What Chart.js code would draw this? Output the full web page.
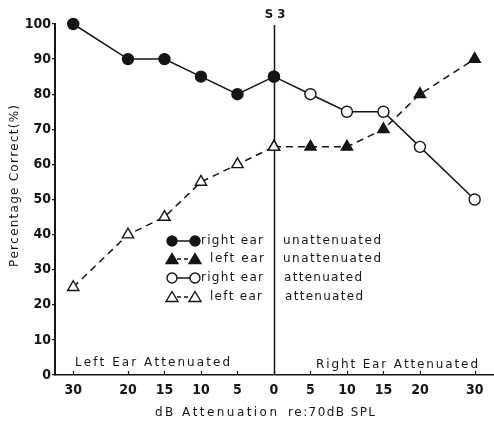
<!DOCTYPE html>
<html>
<head>
<meta charset="utf-8">
<script src="https://cdn.jsdelivr.net/npm/chart.js@4"></script>
<style>
  html, body { margin: 0; padding: 0; background: #fff; }
  #wrap { width: 494px; height: 424px; }
</style>
</head>
<body>
<div id="wrap"><canvas id="c" width="494" height="424"></canvas></div>
<script>
// ---- Data ----
// Left half: left ear attenuated by these dB; right half: right ear attenuated
const leftHalfDb  = [-30, -20, -15, -10, -5, 0];
const rightHalfDb = [0, 5, 10, 15, 20, 30];
const rightEarUnattenuated = [100, 90, 90, 85, 80, 85];
const leftEarAttenuated    = [25, 40, 45, 55, 60, 65];
const rightEarAttenuated   = [85, 80, 75, 75, 65, 50];
const leftEarUnattenuated  = [65, 65, 65, 70, 80, 90];
const xTickDb = [-30, -20, -15, -10, -5, 0, 5, 10, 15, 20, 30];
const yTicks  = [0, 10, 20, 30, 40, 50, 60, 70, 80, 90, 100];

// axis is compressed beyond 20 dB (20->30 spans 1.5 steps of 5 dB)
function axisPos(db) {
  const a = Math.abs(db);
  const u = a <= 20 ? a / 5 : 4 + (a - 20) * 0.15;
  return Math.sign(db) * u;
}
const pts = (dbs, vals) => dbs.map((d, i) => ({ x: axisPos(d), y: vals[i] }));

const INK = '#151515';
const NARROW = '"Liberation Sans Narrow", "DejaVu Sans Condensed", "Liberation Sans", sans-serif';
const PLOT = '"DejaVu Sans", "Liberation Sans", sans-serif';

// draw text spread over a given width (plotter-style lettering)
function spread(ctx, text, x, y, width) {
  const chars = Array.from(text);
  const ws = chars.map(c => ctx.measureText(c).width);
  const total = ws.reduce((a, b) => a + b, 0);
  const gap = chars.length > 1 ? (width - total) / (chars.length - 1) : 0;
  let cx = x;
  chars.forEach((c, i) => { ctx.fillText(c, cx, y); cx += ws[i] + gap; });
}

const decor = {
  id: 'decor',
  beforeDatasetsDraw(chart) {
    const ctx = chart.ctx, xs = chart.scales.x, ca = chart.chartArea;
    const x0 = Math.round(xs.getPixelForValue(0)) + 0.5;
    ctx.save();
    ctx.strokeStyle = INK; ctx.lineWidth = 1.5;
    ctx.beginPath(); ctx.moveTo(x0, ca.top + 1); ctx.lineTo(x0, ca.bottom); ctx.stroke();
    // inner x ticks
    ctx.lineWidth = 1.2;
    xTickDb.forEach(d => {
      const px = Math.round(xs.getPixelForValue(axisPos(d))) + 0.5;
      ctx.beginPath(); ctx.moveTo(px, ca.bottom); ctx.lineTo(px, ca.bottom - 4); ctx.stroke();
    });
    ctx.restore();
  },
  afterDraw(chart) {
    const ctx = chart.ctx, xs = chart.scales.x;
    const x0 = xs.getPixelForValue(0);
    ctx.save();
    ctx.fillStyle = INK; ctx.strokeStyle = INK;
    ctx.textBaseline = 'middle';
    // S 3 label
    ctx.font = 'bold 13px ' + NARROW;
    ctx.textAlign = 'center';
    ctx.fillText('S 3', x0 + 1, 15);

    ctx.font = '12px ' + PLOT;
    ctx.textAlign = 'left';
    spread(ctx, 'Left Ear Attenuated', 75, 363, 155);
    spread(ctx, 'Right Ear Attenuated', 316, 365, 162);

    // axis titles
    spread(ctx, 'dB Attenuation', 155, 413, 122);
    spread(ctx, 're:70dB SPL', 288, 413, 87);
    ctx.save();
    ctx.translate(15, 186);
    ctx.rotate(-Math.PI / 2);
    spread(ctx, 'Percentage Correct(%)', -81, 0, 162);
    ctx.restore();

    // legend
    const rows = [
      { y: 241, fill: true,  tri: false, dash: false, a: 'right ear', ax: 201, aw: 62, b: 'unattenuated', bx: 283, bw: 98 },
      { y: 259, fill: true,  tri: true,  dash: true,  a: 'left ear',  ax: 210, aw: 54, b: 'unattenuated', bx: 283, bw: 98 },
      { y: 278, fill: false, tri: false, dash: false, a: 'right ear', ax: 201, aw: 62, b: 'attenuated',   bx: 284, bw: 78 },
      { y: 297, fill: false, tri: true,  dash: true,  a: 'left ear',  ax: 210, aw: 52, b: 'attenuated',   bx: 285, bw: 78 }
    ];
    const m1 = 172, m2 = 195;
    rows.forEach(r => {
      ctx.lineWidth = 1.5;
      ctx.setLineDash(r.dash ? [4, 3] : []);
      ctx.beginPath(); ctx.moveTo(m1 + 5, r.y); ctx.lineTo(m2 - 5, r.y); ctx.stroke();
      ctx.setLineDash([]);
      [m1, m2].forEach(mx => {
        ctx.beginPath();
        if (r.tri) {
          ctx.moveTo(mx, r.y - 5.5); ctx.lineTo(mx + 6, r.y + 4.5); ctx.lineTo(mx - 6, r.y + 4.5); ctx.closePath();
        } else {
          ctx.arc(mx, r.y, 5, 0, Math.PI * 2);
        }
        ctx.fillStyle = r.fill ? INK : '#fff';
        ctx.fill();
        ctx.lineWidth = 1.4;
        ctx.stroke();
      });
      ctx.fillStyle = INK;
      spread(ctx, r.a, r.ax, r.y, r.aw);
      spread(ctx, r.b, r.bx, r.y, r.bw);
    });
    ctx.restore();
  }
};

const base = {
  borderColor: INK,
  borderWidth: 1.5,
  pointBorderColor: INK,
  pointBorderWidth: 1.4,
  pointHoverRadius: 5,
  tension: 0,
  clip: false
};

new Chart(document.getElementById('c'), {
  type: 'line',
  data: {
    datasets: [
      Object.assign({}, base, {
        label: 'right ear unattenuated',
        data: pts(leftHalfDb, rightEarUnattenuated),
        pointStyle: 'circle', pointRadius: 5.5,
        pointBackgroundColor: INK, order: 1
      }),
      Object.assign({}, base, {
        label: 'left ear attenuated',
        data: pts(leftHalfDb, leftEarAttenuated),
        borderDash: [7, 5],
        pointStyle: 'triangle', pointRadius: 6.5,
        pointBackgroundColor: '#fff', order: 2
      }),
      Object.assign({}, base, {
        label: 'right ear attenuated',
        data: pts(rightHalfDb, rightEarAttenuated),
        pointStyle: 'circle', pointRadius: 5.5,
        pointBackgroundColor: '#fff', order: 3
      }),
      Object.assign({}, base, {
        label: 'left ear unattenuated',
        data: pts(rightHalfDb, leftEarUnattenuated),
        borderDash: [7, 5],
        pointStyle: 'triangle', pointRadius: 6.5,
        pointBackgroundColor: INK, order: 4
      })
    ]
  },
  options: {
    responsive: false,
    animation: false,
    events: [],
    layout: { autoPadding: false, padding: { top: 24, right: 0, bottom: 0, left: 0 } },
    plugins: { legend: { display: false }, tooltip: { enabled: false } },
    scales: {
      x: {
        type: 'linear',
        min: -6, max: 6.03,
        afterBuildTicks: s => { s.ticks = xTickDb.map(d => ({ value: axisPos(d) })); },
        afterFit: s => { s.height = 49; s.paddingLeft = 0; s.paddingRight = 0; },
        grid: { display: true, drawOnChartArea: false, drawTicks: false },
        border: { color: INK, width: 1.5 },
        ticks: {
          autoSkip: false, maxRotation: 0, padding: 7,
          color: INK, font: { family: NARROW, size: 14, weight: 'bold' },
          callback: (v, i) => String(Math.abs(xTickDb[i]))
        }
      },
      y: {
        min: 0, max: 100,
        afterBuildTicks: s => { s.ticks = yTicks.map(v => ({ value: v })); },
        afterFit: s => { s.width = 55; s.paddingTop = 0; s.paddingBottom = 0; },
        grid: { display: true, drawOnChartArea: false, drawTicks: true, tickLength: 3, color: INK, lineWidth: 1.2 },
        border: { color: INK, width: 2 },
        ticks: {
          padding: 1,
          color: INK, font: { family: NARROW, size: 14, weight: 'bold' }
        }
      }
    }
  },
  plugins: [decor]
});
</script>
</body>
</html>
